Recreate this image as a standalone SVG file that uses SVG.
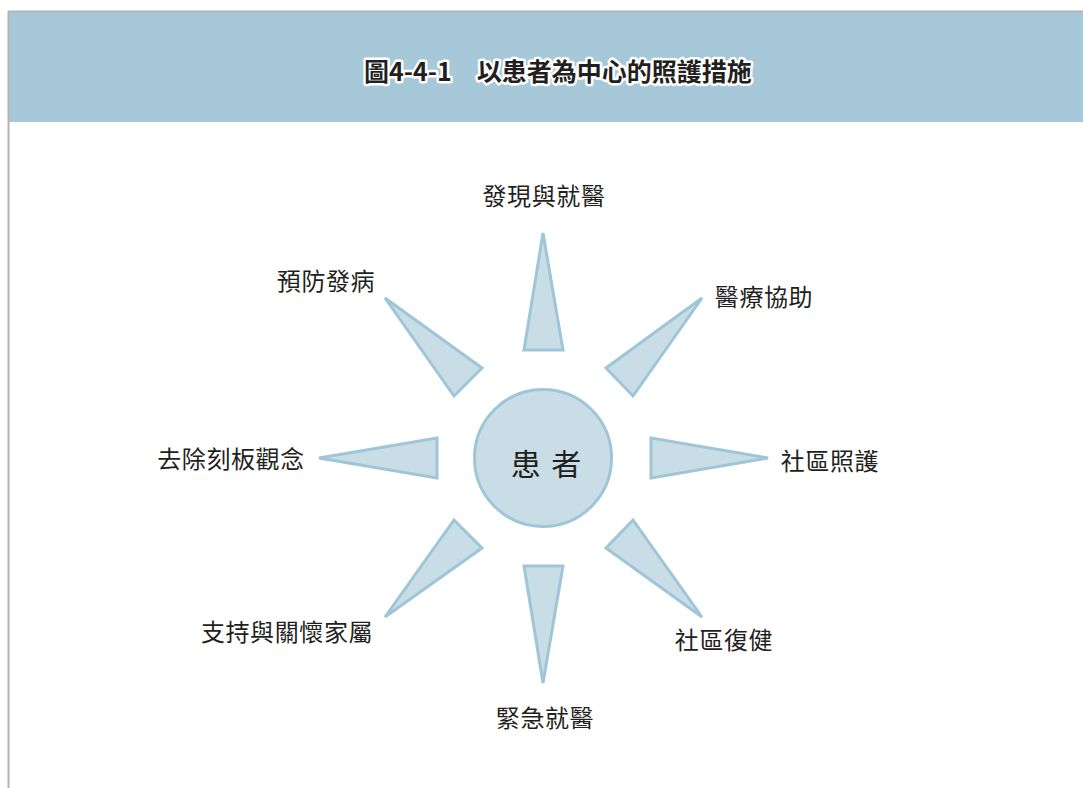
<svg xmlns="http://www.w3.org/2000/svg" width="1083" height="788" viewBox="0 0 1083 788">
<style>
.lbl{font-family:"Noto Sans CJK TC","Noto Sans CJK SC",sans-serif;font-size:24px;font-weight:400;fill:#231f20;letter-spacing:0.6px}
.tri{fill:#c9dde7;stroke:#9fc6d7;stroke-width:3;stroke-linejoin:miter}
.title{font-family:"Noto Sans CJK TC","Noto Sans CJK SC",sans-serif;font-size:25px;font-weight:bold;fill:#231f20;stroke:#ffffff;stroke-width:5;paint-order:stroke;stroke-linejoin:round}
</style>
<rect x="0" y="0" width="1083" height="788" fill="#ffffff"/>
<g id="frame">
<rect x="8" y="12" width="1075" height="110" fill="#a6c8d8"/>
<line x1="8" y1="11.5" x2="1083" y2="11.5" stroke="#b3b3b3" stroke-width="2"/>
<line x1="8.5" y1="11" x2="8.5" y2="788" stroke="#b3b3b3" stroke-width="2"/>
<text class="title" x="558" y="81" text-anchor="middle">圖4-4-1　以患者為中心的照護措施</text>
</g>
<g id="connectors">
<polygon class="tri" points="543,233 524,350 563,350"/>
<polygon class="tri" points="385,298 482,368 454,396"/>
<polygon class="tri" points="702,298 606,368 633,396"/>
<polygon class="tri" points="319,458 437,438 437,478"/>
<polygon class="tri" points="768,458 651,438 651,478"/>
<polygon class="tri" points="385,617 454,520 482,548"/>
<polygon class="tri" points="543,683 524,566 563,566"/>
<polygon class="tri" points="702,617 633,520 606,548"/>
</g>
<g id="center">
<circle cx="543" cy="458" r="68.5" fill="#c9dde7" stroke="#9fc6d7" stroke-width="3"/>
<text class="lbl" x="547" y="475" text-anchor="middle" style="font-size:30px;letter-spacing:2px">患 者</text>
</g>
<g id="n-top"><text class="lbl" x="544" y="205" text-anchor="middle">發現與就醫</text></g>
<g id="n-tl"><text class="lbl" x="326" y="290" text-anchor="middle">預防發病</text></g>
<g id="n-tr"><text class="lbl" x="764" y="306" text-anchor="middle">醫療協助</text></g>
<g id="n-l"><text class="lbl" x="231" y="468" text-anchor="middle">去除刻板觀念</text></g>
<g id="n-r"><text class="lbl" x="830" y="470" text-anchor="middle">社區照護</text></g>
<g id="n-bl"><text class="lbl" x="287" y="641" text-anchor="middle">支持與關懷家屬</text></g>
<g id="n-br"><text class="lbl" x="724" y="649" text-anchor="middle">社區復健</text></g>
<g id="n-b"><text class="lbl" x="545" y="727" text-anchor="middle">緊急就醫</text></g>
</svg>
